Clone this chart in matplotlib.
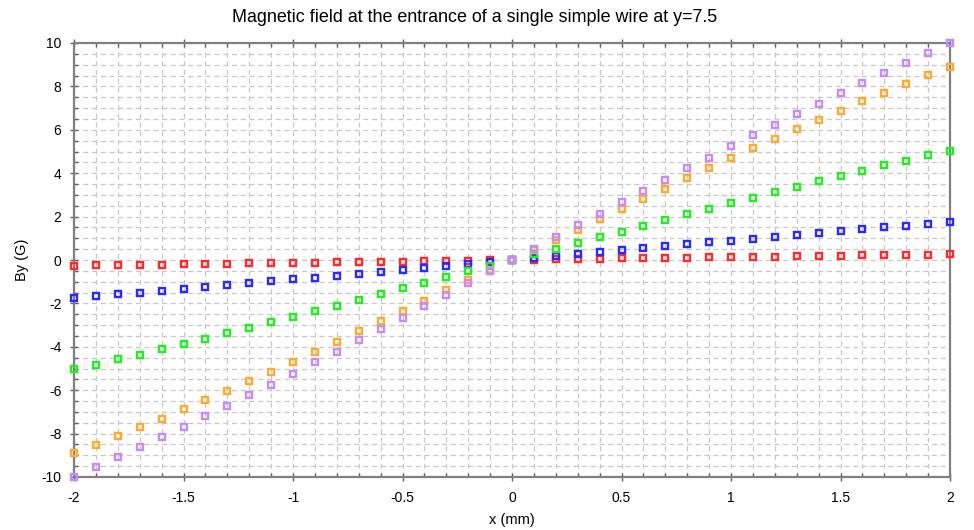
import numpy as np
import matplotlib
matplotlib.use("Agg")
import matplotlib.pyplot as plt
from matplotlib.ticker import MultipleLocator

plt.rcParams['font.family'] = ['Liberation Sans', 'DejaVu Sans']

# x positions (mm)
x_mm = [-2.0, -1.9, -1.8, -1.7, -1.6, -1.5, -1.4, -1.3, -1.2, -1.1, -1.0,
        -0.9, -0.8, -0.7, -0.6, -0.5, -0.4, -0.3, -0.2, -0.1, 0.0,
        0.1, 0.2, 0.3, 0.4, 0.5, 0.6, 0.7, 0.8, 0.9, 1.0,
        1.1, 1.2, 1.3, 1.4, 1.5, 1.6, 1.7, 1.8, 1.9, 2.0]

# By (G) per series
by_red = [-0.27, -0.25, -0.23, -0.22, -0.21, -0.19, -0.18, -0.17, -0.16, -0.14, -0.13,
          -0.12, -0.11, -0.09, -0.08, -0.07, -0.05, -0.04, -0.03, -0.01, 0.0,
          0.01, 0.03, 0.04, 0.05, 0.07, 0.08, 0.09, 0.11, 0.12, 0.13,
          0.14, 0.16, 0.17, 0.18, 0.19, 0.21, 0.22, 0.23, 0.25, 0.27]
by_blue = [-1.77, -1.66, -1.58, -1.51, -1.41, -1.33, -1.24, -1.16, -1.06, -0.98, -0.89,
           -0.81, -0.72, -0.63, -0.54, -0.45, -0.35, -0.26, -0.17, -0.09, 0.0,
           0.09, 0.17, 0.26, 0.35, 0.45, 0.54, 0.63, 0.72, 0.81, 0.89,
           0.98, 1.06, 1.16, 1.24, 1.33, 1.41, 1.51, 1.58, 1.66, 1.77]
by_green = [-5.04, -4.82, -4.58, -4.36, -4.12, -3.87, -3.63, -3.36, -3.12, -2.87, -2.63,
            -2.37, -2.10, -1.84, -1.58, -1.31, -1.04, -0.77, -0.52, -0.29, 0.0,
            0.29, 0.52, 0.77, 1.04, 1.31, 1.58, 1.84, 2.10, 2.37, 2.63,
            2.87, 3.12, 3.36, 3.63, 3.87, 4.12, 4.36, 4.58, 4.82, 5.04]
by_orange = [-8.91, -8.53, -8.13, -7.71, -7.31, -6.88, -6.45, -6.04, -5.58, -5.15, -4.69,
             -4.22, -3.76, -3.29, -2.83, -2.37, -1.90, -1.40, -0.94, -0.46, 0.0,
             0.46, 0.94, 1.40, 1.90, 2.37, 2.83, 3.29, 3.76, 4.22, 4.69,
             5.15, 5.58, 6.04, 6.45, 6.88, 7.31, 7.71, 8.13, 8.53, 8.91]
by_violet = [-9.98, -9.52, -9.09, -8.63, -8.17, -7.70, -7.20, -6.74, -6.24, -5.75, -5.25,
             -4.72, -4.22, -3.69, -3.19, -2.67, -2.13, -1.60, -1.06, -0.52, 0.0,
             0.52, 1.06, 1.60, 2.13, 2.67, 3.19, 3.69, 4.22, 4.72, 5.25,
             5.75, 6.24, 6.74, 7.20, 7.70, 8.17, 8.63, 9.09, 9.52, 9.98]

series = [by_red, by_blue, by_green, by_orange, by_violet]
colors = ['#ff2a2a', '#2a2aff', '#22ee22', '#ffaa30', '#c68cf8']

fig = plt.figure(figsize=(9.74, 5.30), dpi=100)
ax = fig.add_axes([74 / 974, 1 - 477 / 530, 876 / 974, 434 / 530])

for ys, c in zip(series, colors):
    ax.plot(x_mm, ys, linestyle='none', marker='s', ms=4.3, mfc='none',
            mec=c, mew=1.7, clip_on=False, zorder=3)

ax.set_xlim(-2, 2)
ax.set_ylim(-10, 10)
ax.xaxis.set_major_locator(MultipleLocator(0.5))
ax.xaxis.set_minor_locator(MultipleLocator(0.1))
ax.yaxis.set_major_locator(MultipleLocator(2))
ax.yaxis.set_minor_locator(MultipleLocator(0.5))
ax.xaxis.set_major_formatter(plt.FuncFormatter(lambda v, p: f"{v:g}"))
ax.yaxis.set_major_formatter(plt.FuncFormatter(lambda v, p: f"{v:g}"))

ax.grid(which='both', color='#c8c8c8', linestyle=(0, (4, 3)), linewidth=0.9)
ax.set_axisbelow(True)

for side in ['left', 'bottom', 'top', 'right']:
    ax.spines[side].set_color('#808080')
    ax.spines[side].set_linewidth(1.6)

ax.tick_params(which='major', direction='inout', length=6, width=1, color='#606060',
               labelsize=10, labelcolor='black', top=True, right=False)
ax.tick_params(which='minor', direction='in', length=3, width=1, color='#606060',
               top=True, right=False)
ax.tick_params(axis='x', which='major', pad=7)
ax.tick_params(axis='y', which='major', pad=6)

fig.text(512 / 974, 1 - 520 / 530, 'x (mm)', ha='center', va='center', fontsize=10.5)
fig.text(22 / 974, 1 - 260 / 530, 'By (G)', ha='center', va='center', rotation=90, fontsize=10.5)
fig.text(475 / 974, 1 - 18 / 530, 'Magnetic field at the entrance of a single simple wire at y=7.5',
         ha='center', va='center', fontsize=12.9)

fig.savefig('out.png', dpi=100)
